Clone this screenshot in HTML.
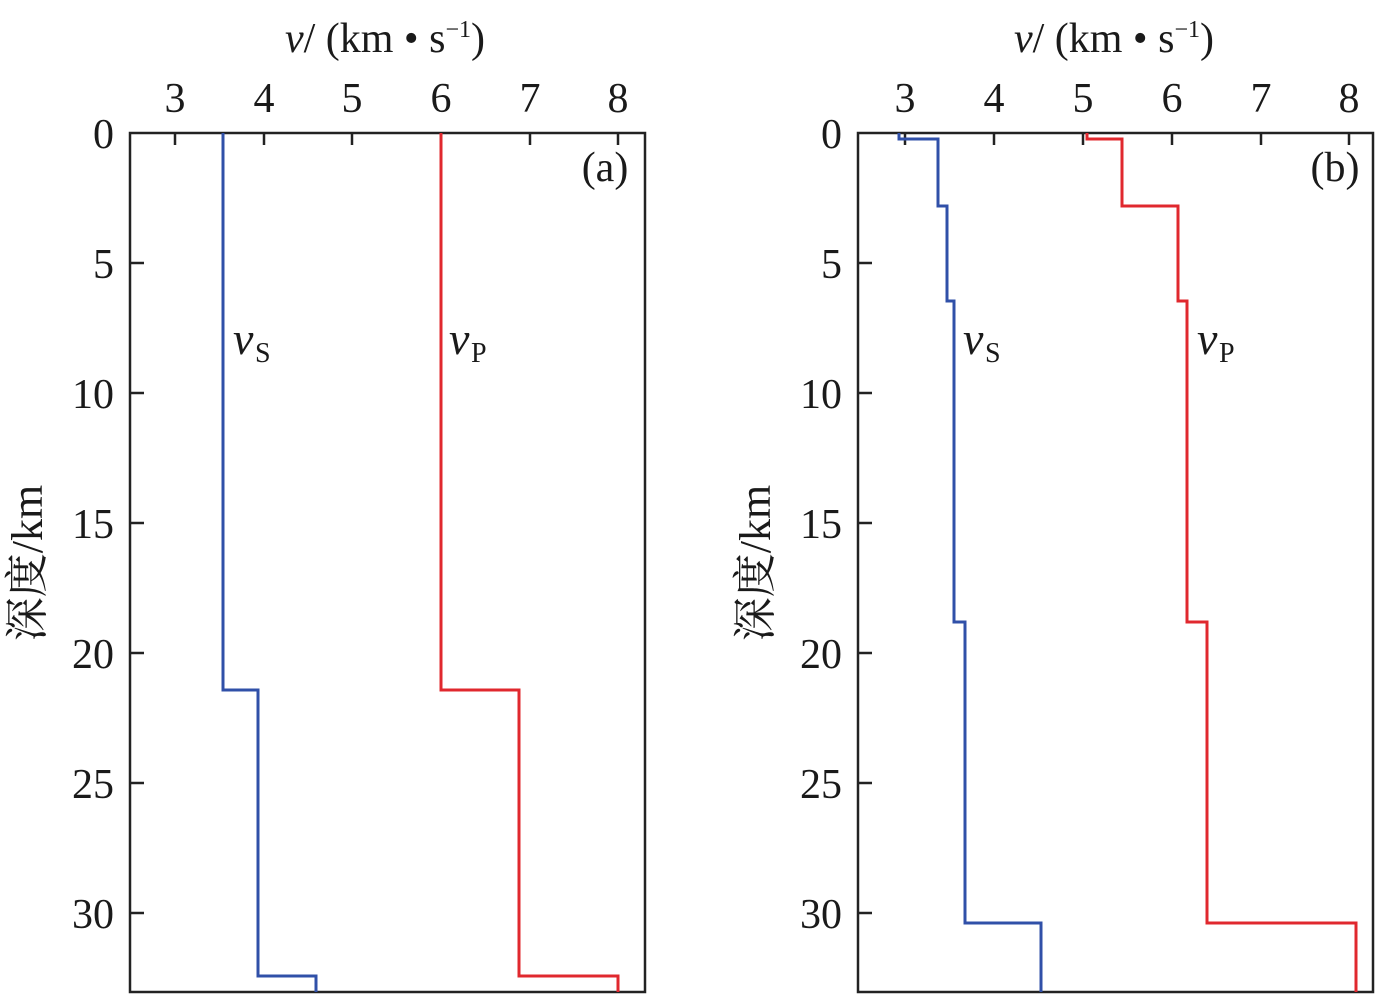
<!DOCTYPE html>
<html><head><meta charset="utf-8"><style>
html,body{margin:0;padding:0;background:#fff;}
svg{display:block;}
text{font-family:"Liberation Serif","Noto Serif CJK SC",serif;fill:#1a1a1a;}
</style></head><body>
<svg width="1378" height="994" viewBox="0 0 1378 994" xmlns="http://www.w3.org/2000/svg">
<g font-size="42">
<!-- Panel a -->
<rect x="130" y="133" width="515" height="859" fill="none" stroke="#222" stroke-width="2.5"/>
<g stroke="#222" stroke-width="2.5">
<line x1="175" y1="133" x2="175" y2="145"/><line x1="264" y1="133" x2="264" y2="145"/><line x1="352" y1="133" x2="352" y2="145"/><line x1="441" y1="133" x2="441" y2="145"/><line x1="530" y1="133" x2="530" y2="145"/><line x1="618" y1="133" x2="618" y2="145"/>
<line x1="130" y1="263" x2="144" y2="263"/><line x1="130" y1="393" x2="144" y2="393"/><line x1="130" y1="523" x2="144" y2="523"/><line x1="130" y1="653" x2="144" y2="653"/><line x1="130" y1="783" x2="144" y2="783"/><line x1="130" y1="913" x2="144" y2="913"/>
</g>
<g text-anchor="middle"><text x="175" y="112">3</text><text x="264" y="112">4</text><text x="352" y="112">5</text><text x="441" y="112">6</text><text x="530" y="112">7</text><text x="618" y="112">8</text></g>
<g text-anchor="end"><text x="114" y="148">0</text><text x="114" y="278">5</text><text x="114" y="408">10</text><text x="114" y="538">15</text><text x="114" y="668">20</text><text x="114" y="798">25</text><text x="114" y="928">30</text></g>
<text x="385" y="52" text-anchor="middle"><tspan font-style="italic">v</tspan>/ (km • s<tspan font-size="24" dy="-15">−1</tspan><tspan dy="15">)</tspan></text>
<text x="605" y="181" text-anchor="middle">(a)</text>
<text x="233" y="354" font-style="italic" font-size="46">v</text><text x="255" y="362" font-size="28">S</text>
<text x="449" y="354" font-style="italic" font-size="46">v</text><text x="471" y="362" font-size="28">P</text>
<text transform="translate(42,563) rotate(-90)" text-anchor="middle" font-size="44">深度/km</text>
<polyline fill="none" stroke="#3050a8" stroke-width="3" points="223,133 223,690 258,690 258,976 316,976 316,992"/>
<polyline fill="none" stroke="#e0282e" stroke-width="3" points="441,133 441,690 519,690 519,976 618,976 618,992"/>

<!-- Panel b -->
<rect x="858" y="133" width="515" height="859" fill="none" stroke="#222" stroke-width="2.5"/>
<g stroke="#222" stroke-width="2.5">
<line x1="905" y1="133" x2="905" y2="145"/><line x1="994" y1="133" x2="994" y2="145"/><line x1="1083" y1="133" x2="1083" y2="145"/><line x1="1172" y1="133" x2="1172" y2="145"/><line x1="1261" y1="133" x2="1261" y2="145"/><line x1="1349" y1="133" x2="1349" y2="145"/>
<line x1="858" y1="263" x2="872" y2="263"/><line x1="858" y1="393" x2="872" y2="393"/><line x1="858" y1="523" x2="872" y2="523"/><line x1="858" y1="653" x2="872" y2="653"/><line x1="858" y1="783" x2="872" y2="783"/><line x1="858" y1="913" x2="872" y2="913"/>
</g>
<g text-anchor="middle"><text x="905" y="112">3</text><text x="994" y="112">4</text><text x="1083" y="112">5</text><text x="1172" y="112">6</text><text x="1261" y="112">7</text><text x="1349" y="112">8</text></g>
<g text-anchor="end"><text x="842" y="148">0</text><text x="842" y="278">5</text><text x="842" y="408">10</text><text x="842" y="538">15</text><text x="842" y="668">20</text><text x="842" y="798">25</text><text x="842" y="928">30</text></g>
<text x="1114" y="52" text-anchor="middle"><tspan font-style="italic">v</tspan>/ (km • s<tspan font-size="24" dy="-15">−1</tspan><tspan dy="15">)</tspan></text>
<text x="1335" y="181" text-anchor="middle">(b)</text>
<text x="963" y="354" font-style="italic" font-size="46">v</text><text x="985" y="362" font-size="28">S</text>
<text x="1197" y="354" font-style="italic" font-size="46">v</text><text x="1219" y="362" font-size="28">P</text>
<text transform="translate(770,563) rotate(-90)" text-anchor="middle" font-size="44">深度/km</text>
<polyline fill="none" stroke="#3050a8" stroke-width="3" points="899,133 899,139 938,139 938,206 947,206 947,301 954,301 954,622 965,622 965,923 1041,923 1041,992"/>
<polyline fill="none" stroke="#e0282e" stroke-width="3" points="1087,133 1087,139 1122,139 1122,206 1178,206 1178,301 1187,301 1187,622 1207,622 1207,923 1356,923 1356,992"/>
</g>
</svg>
</body></html>
